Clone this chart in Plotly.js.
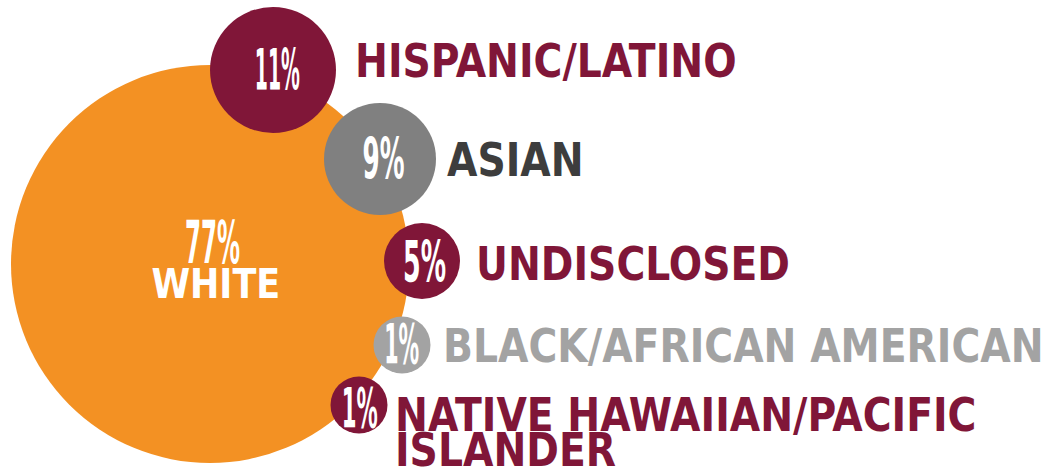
<!DOCTYPE html>
<html>
<head>
<meta charset="utf-8">
<script src="https://cdn.plot.ly/plotly-3.0.1.min.js"></script>
<style>
html,body{margin:0;padding:0;background:#fff;}
#chart{width:1048px;height:467px;}
</style>
</head>
<body>
<div id="chart"></div>
<script>
// ---- data ----
const categories = ["White", "Hispanic/Latino", "Asian", "Undisclosed", "Black/African American", "Native Hawaiian/Pacific Islander"];
const percents = [77, 11, 9, 5, 1, 1];
const labelTexts = ["WHITE", "HISPANIC/LATINO", "ASIAN", "UNDISCLOSED", "BLACK/AFRICAN AMERICAN", "NATIVE HAWAIIAN/PACIFIC<br>ISLANDER"];

// ---- layout constants (pixel space) ----
const bubbleX = [210, 273, 380, 422, 402, 359];
const bubbleY = [264, 70, 159, 261, 345, 405];
const bubbleR = [199, 63, 56, 38, 28.5, 28.5];
const bubbleColors = ["#f39123", "#801638", "#808080", "#801638", "#a3a3a3", "#801638"];
const labelColors = ["#ffffff", "#801638", "#3d3d3d", "#801638", "#a3a3a3", "#801638"];
const labelX = [216, 353, 445, 474, 441, 393];
const labelY = [284, 61, 160, 264, 346, 415];
const pctX = [212, 277, 383, 424, 402, 360];
const pctY = [242, 70, 159, 262, 343, 407];
const pctSize = [59, 57, 57, 57, 56, 56];
const pctWidth = [55, 45, 42, 43, 35, 36];
const labelScale = 0.95;
const lineGap = 35;

const trace = {
  type: "scatter",
  mode: "markers",
  x: bubbleX,
  y: bubbleY,
  text: categories,
  marker: {size: bubbleR.map(v => v * 2), color: bubbleColors, line: {width: 0}, opacity: 1},
  hoverinfo: "skip",
  showlegend: false
};

const FONT = "DejaVu Sans Condensed, Liberation Sans, sans-serif";
const annotations = [];
percents.forEach((p, i) => {
  annotations.push({
    x: pctX[i], y: pctY[i], xref: "x", yref: "y",
    text: p + "%", showarrow: false, xanchor: "center", yanchor: "middle",
    font: {family: FONT, size: pctSize[i], color: "#ffffff", weight: 700}
  });
});
labelTexts.forEach((t, i) => {
  const lines = t.split("<br>");
  lines.forEach((ln, j) => {
    annotations.push({
      x: labelX[i], y: labelY[i] + j * lineGap, xref: "x", yref: "y",
      text: ln, showarrow: false, xanchor: i === 0 ? "center" : "left", yanchor: "middle",
      font: {family: FONT, size: i === 0 ? 41 : 46, color: labelColors[i], weight: 700}
    });
  });
});

const layout = {
  width: 1048, height: 467,
  margin: {l: 0, r: 0, t: 0, b: 0, pad: 0},
  paper_bgcolor: "#ffffff", plot_bgcolor: "#ffffff",
  xaxis: {range: [0, 1048], visible: false, fixedrange: true},
  yaxis: {range: [467, 0], visible: false, fixedrange: true},
  annotations: annotations,
  showlegend: false
};

Plotly.newPlot("chart", [trace], layout, {staticPlot: true, displayModeBar: false}).then(() => {
  const groups = document.querySelectorAll("g.annotation");
  groups.forEach((g, k) => {
    const txt = g.querySelector("text.annotation-text");
    if (!txt) return;
    txt.style.transformBox = "fill-box";
    if (k < percents.length) {
      const w = txt.getBBox().width;
      const s = pctWidth[k] / w;
      txt.style.transformOrigin = "center";
      txt.style.transform = "scaleX(" + s.toFixed(3) + ")";
    } else {
      txt.style.transformOrigin = (k === percents.length) ? "center" : "left center";
      txt.style.transform = "scaleX(" + labelScale + ")";
    }
  });
});
</script>
</body>
</html>
